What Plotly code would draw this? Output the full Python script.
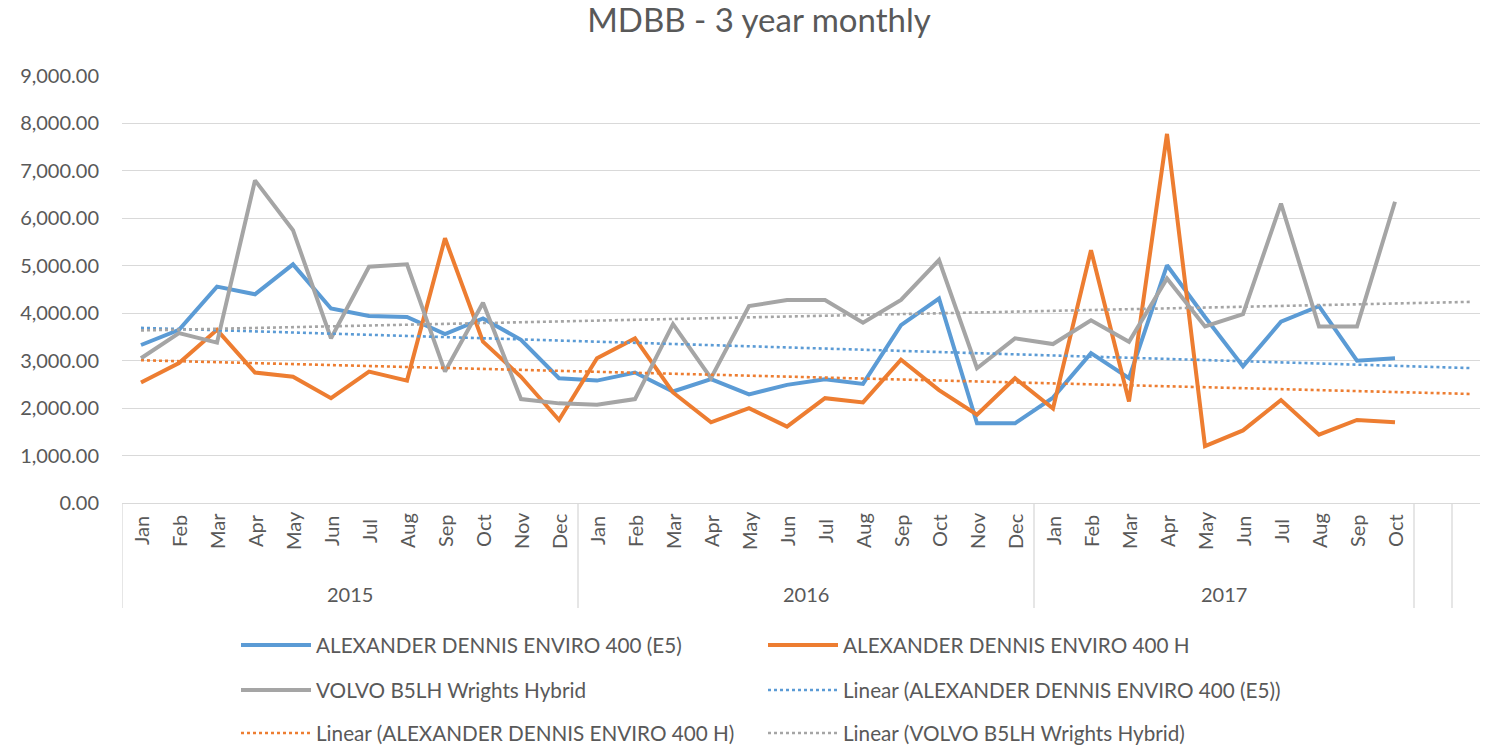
import numpy as np
import plotly.graph_objects as go

# ---------------- data ----------------
month_names = ["Jan", "Feb", "Mar", "Apr", "May", "Jun",
               "Jul", "Aug", "Sep", "Oct", "Nov", "Dec"]
years = ["2015", "2016", "2017"]
months_per_year = [12, 12, 10]
extra_empty_slots = 2

e5 = [3330, 3650, 4560, 4400, 5030, 4100, 3940, 3920, 3560, 3890, 3440, 2630,
      2580, 2750, 2350, 2610, 2290, 2490, 2610, 2510, 3750, 4310, 1680, 1680,
      2220, 3160, 2630, 5010, 3920, 2880, 3820, 4150, 3000, 3050]
h400 = [2540, 2950, 3650, 2750, 2660, 2210, 2770, 2580, 5580, 3400, 2660, 1750,
        3050, 3470, 2330, 1700, 2000, 1610, 2210, 2120, 3020, 2380, 1860, 2630,
        1990, 5330, 2140, 7780, 1200, 1530, 2170, 1440, 1750, 1700]
volvo = [3050, 3580, 3380, 6800, 5750, 3470, 4980, 5030, 2770, 4220, 2190, 2100,
         2070, 2190, 3770, 2630, 4150, 4280, 4280, 3800, 4280, 5120, 2840, 3470,
         3350, 3850, 3400, 4730, 3720, 3980, 6310, 3720, 3720, 6350]

series_names = ["ALEXANDER DENNIS ENVIRO 400 (E5)",
                "ALEXANDER DENNIS ENVIRO 400 H",
                "VOLVO B5LH Wrights Hybrid"]
series_values = [e5, h400, volvo]
colors = ["#5B9BD5", "#ED7D31", "#A5A5A5"]

# ---------------- derived axis info ----------------
month_labels = []
for n in months_per_year:
    month_labels += month_names[:n]
n_points = len(month_labels)
n_slots = n_points + extra_empty_slots
x_idx = list(range(n_points))
x_all = list(range(n_slots))

TXT = "#595959"
GRID = "#D9D9D9"
FONT = "Lato"

traces = []
# main lines
for name, vals, col in zip(series_names, series_values, colors):
    traces.append(go.Scatter(x=x_idx, y=vals, mode="lines", name=name,
                             line=dict(color=col, width=4)))

# linear trendlines (least squares, as the spreadsheet trendline)
for name, vals, col in zip(series_names, series_values, colors):
    k, b = np.polyfit(np.array(x_idx, dtype=float), np.array(vals, dtype=float), 1)
    ty = [k * x + b for x in x_all]
    traces.append(go.Scatter(x=x_all, y=ty, mode="lines",
                             name=f"Linear ({name})",
                             line=dict(color=col, width=2.6, dash="dot")))

# 2-column, 3-row legend
legend_ids = ["legend", "legend", "legend2", "legend2", "legend3", "legend3"]
fig = go.Figure()
for tr, lg in zip(traces, legend_ids):
    tr.legend = lg
    fig.add_trace(tr)

# ---------------- geometry ----------------
# the page body adds an 8px offset; work in window pixels and subtract it
OFF = 8
WIN_W, WIN_H = 1488, 747
W, H = WIN_W - OFF, WIN_H - OFF
plot_left_win, plot_top_win, plot_bot_win = 122, 76, 503
L = plot_left_win - OFF
T = plot_top_win - OFF
B = H - (plot_bot_win - OFF)
R = 0
plot_h = H - T - B
slot_px = 38.0
x_max = -0.5 + (W - L - R) / slot_px


def py(win_pix):
    """window pixel y -> paper y"""
    return (H - B - (win_pix - OFF)) / plot_h


def px(win_pix):
    """window pixel x -> paper x"""
    return ((win_pix - OFF) - L) / (W - L - R)


# vertical dividers under axis
boundaries = [-0.5]
acc = -0.5
for n in months_per_year:
    acc += n
    boundaries.append(acc)
for _ in range(extra_empty_slots):
    acc += 1
    boundaries.append(acc)

shapes = []
for bx in boundaries:
    shapes.append(dict(type="line", xref="x", yref="paper", x0=bx, x1=bx,
                       y0=0, y1=py(608), line=dict(color=GRID, width=1.3)))

annotations = []
for i, m in enumerate(month_labels):
    annotations.append(dict(x=i, y=py(531), xref="x", yref="paper", text=m,
                            showarrow=False, textangle=-90,
                            xanchor="center", yanchor="middle",
                            font=dict(family=FONT, size=20, color=TXT)))
start = 0
for yr, n in zip(years, months_per_year):
    lo = start - 0.5
    hi = start + n - 0.5
    annotations.append(dict(x=(lo + hi) / 2, y=py(594), xref="x", yref="paper",
                            text=yr, showarrow=False,
                            xanchor="center", yanchor="middle",
                            font=dict(family=FONT, size=20, color=TXT)))
    start += n

leg_common = dict(orientation="h", xref="paper", yref="paper",
                  xanchor="left", yanchor="middle",
                  font=dict(family=FONT, size=20.7, color=TXT),
                  entrywidth=442, itemwidth=70, bgcolor="rgba(0,0,0,0)",
                  tracegroupgap=0)
leg_x = px(236)

fig.update_layout(
    width=W, height=H,
    margin=dict(l=L, r=R, t=T, b=B, autoexpand=False),
    paper_bgcolor="white", plot_bgcolor="white",
    title=dict(text="MDBB - 3 year monthly", xref="container",
               x=(759 - OFF) / W, xanchor="center", yref="container",
               y=1.0, yanchor="top", pad=dict(t=1),
               font=dict(family=FONT, size=33, color=TXT)),
    xaxis=dict(range=[-0.5, x_max], showgrid=False, zeroline=False,
               showticklabels=False, ticks="", showline=True,
               linecolor=GRID, linewidth=1.3, fixedrange=True,
               automargin=False),
    yaxis=dict(range=[0, 9000], tickvals=list(range(0, 9001, 1000)),
               tickformat=",.2f", showgrid=True, gridcolor=GRID,
               gridwidth=1.3, zeroline=False, showline=False, ticks="",
               ticklabelstandoff=22, automargin=False,
               tickfont=dict(family=FONT, size=20, color=TXT)),
    legend=dict(leg_common, x=leg_x, y=py(645)),
    legend2=dict(leg_common, x=leg_x, y=py(690)),
    legend3=dict(leg_common, x=leg_x, y=py(733)),
    shapes=shapes,
    annotations=annotations,
    showlegend=True,
)

fig.write_html("out.html")
